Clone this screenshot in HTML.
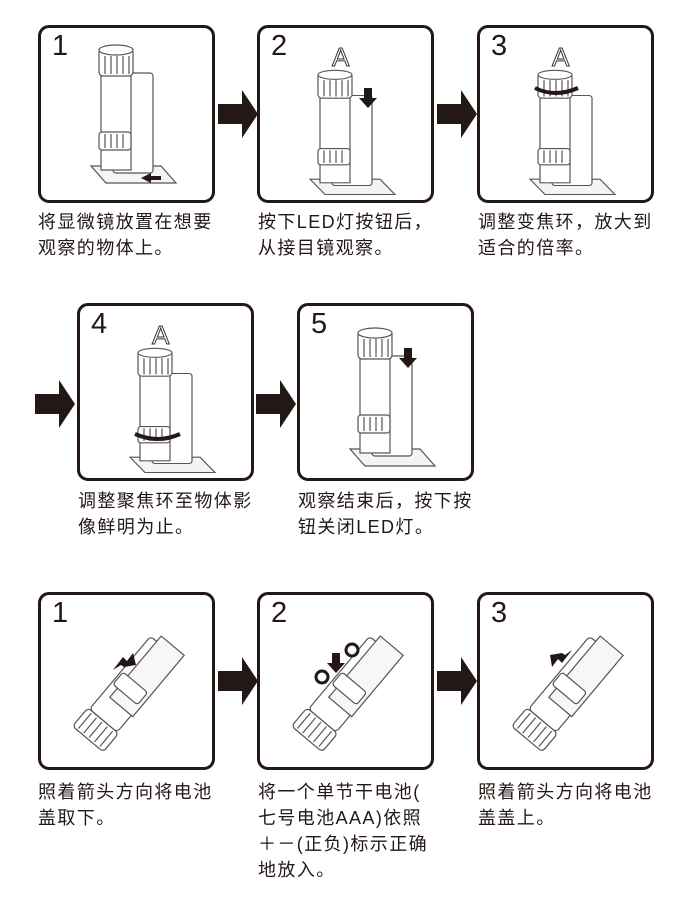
<!DOCTYPE html>
<html><head><meta charset="utf-8"><style>
body{margin:0;width:689px;height:900px;background:#fff;position:relative;overflow:hidden;font-family:"Liberation Sans","Noto Sans CJK SC",sans-serif;color:#231815}
.box{position:absolute;width:171px;height:172px;border:3px solid #231815;border-radius:11px;box-sizing:content-box}
.num{position:absolute;left:11px;top:2px;font-size:29px;font-family:"Liberation Sans",sans-serif}
.t{position:absolute;font-size:18px;line-height:26px;white-space:nowrap;letter-spacing:1.4px}
.ar{position:absolute;width:40px;height:48px}
svg.m{position:absolute}
</style></head><body>
<svg width="0" height="0" style="position:absolute"><defs>
<g id="mic" fill="#fff" stroke="#555" stroke-width="1.2">
<polygon points="-30,118 40,118 55,135 -15,135" fill="#f4f4f4"/>
<rect x="-8" y="25" width="40" height="100" rx="3"/>
<rect x="-20" y="22" width="30" height="100"/>
<rect x="-22" y="0" width="34" height="28" rx="4"/>
<ellipse cx="-5" cy="2" rx="17" ry="5"/>
<line x1="-16" y1="8" x2="-16" y2="26"/><line x1="-10" y1="8" x2="-10" y2="26"/><line x1="-4" y1="8" x2="-4" y2="26"/><line x1="2" y1="8" x2="2" y2="26"/><line x1="8" y1="8" x2="8" y2="26"/>
<rect x="-22" y="84" width="32" height="18" rx="3"/>
<line x1="-16" y1="86" x2="-16" y2="100"/><line x1="-10" y1="86" x2="-10" y2="100"/><line x1="-4" y1="86" x2="-4" y2="100"/><line x1="2" y1="86" x2="2" y2="100"/>
</g>
<g id="mic2" fill="#fff" stroke="#555" stroke-width="1.2" transform="rotate(40)">
<rect x="-18" y="-55" width="36" height="95" rx="4"/>
<rect x="-10" y="-62" width="30" height="80" fill="#f7f7f7"/>
<rect x="-20" y="40" width="40" height="24" rx="4"/>
<line x1="-14" y1="42" x2="-14" y2="62"/><line x1="-7" y1="42" x2="-7" y2="62"/><line x1="0" y1="42" x2="0" y2="62"/><line x1="7" y1="42" x2="7" y2="62"/><line x1="14" y1="42" x2="14" y2="62"/>
<rect x="-16" y="-10" width="32" height="16" rx="3"/>
</g>
<polygon id="arr" points="0,14 24,14 24,0 40,24 24,48 24,34 0,34" fill="#231815"/>
</defs></svg>

<!-- Row 1 -->
<div class="box" style="left:38px;top:25px"><div class="num">1</div>
<svg class="m" width="171" height="172"><use href="#mic" x="80" y="20"/><polygon points="100,150 110,145 110,148 120,148 120,152 110,152 110,155" fill="#231815"/></svg></div>
<svg class="ar" style="left:218px;top:90px"><use href="#arr"/></svg>
<div class="box" style="left:257px;top:25px"><div class="num">2</div>
<svg class="m" width="171" height="172"><text x="72" y="38" font-size="26" fill="none" stroke="#333" font-family="Liberation Sans">A</text><use href="#mic" x="80" y="40" transform="scale(1,0.9) translate(0,10)"/><polygon points="104,60 112,60 112,70 117,70 108,80 99,70 104,70" fill="#231815"/></svg></div>
<svg class="ar" style="left:437px;top:90px"><use href="#arr"/></svg>
<div class="box" style="left:477px;top:25px"><div class="num">3</div>
<svg class="m" width="171" height="172"><text x="72" y="38" font-size="26" fill="none" stroke="#333" font-family="Liberation Sans">A</text><use href="#mic" x="80" y="40" transform="scale(1,0.9) translate(0,10)"/><path d="M55,60 Q75,70 98,60" stroke="#231815" stroke-width="4" fill="none"/></svg></div>
<div class="t" style="left:38px;top:209px">将显微镜放置在想要<br>观察的物体上。</div>
<div class="t" style="left:258px;top:209px">按下LED灯按钮后，<br>从接目镜观察。</div>
<div class="t" style="left:478px;top:209px">调整变焦环，放大到<br>适合的倍率。</div>

<!-- Row 2 -->
<svg class="ar" style="left:35px;top:380px"><use href="#arr"/></svg>
<div class="box" style="left:77px;top:303px"><div class="num">4</div>
<svg class="m" width="171" height="172"><text x="72" y="38" font-size="26" fill="none" stroke="#333" font-family="Liberation Sans">A</text><use href="#mic" x="80" y="40" transform="scale(1,0.9) translate(0,10)"/><path d="M55,128 Q78,138 100,128" stroke="#231815" stroke-width="4" fill="none"/></svg></div>
<svg class="ar" style="left:256px;top:380px"><use href="#arr"/></svg>
<div class="box" style="left:297px;top:303px"><div class="num">5</div>
<svg class="m" width="171" height="172"><use href="#mic" x="80" y="25"/><polygon points="104,42 112,42 112,52 117,52 108,62 99,52 104,52" fill="#231815"/></svg></div>
<div class="t" style="left:78px;top:488px">调整聚焦环至物体影<br>像鲜明为止。</div>
<div class="t" style="left:298px;top:488px">观察结束后，按下按<br>钮关闭LED灯。</div>

<!-- Row 3 -->
<div class="box" style="left:38px;top:592px"><div class="num">1</div>
<svg class="m" width="171" height="172"><use href="#mic2" x="88" y="95"/><polygon points="72,75 82,62 86,66 92,58 95,70 83,72 80,70" fill="#231815"/></svg></div>
<svg class="ar" style="left:218px;top:657px"><use href="#arr"/></svg>
<div class="box" style="left:257px;top:592px"><div class="num">2</div>
<svg class="m" width="171" height="172"><use href="#mic2" x="88" y="95"/><circle cx="62" cy="82" r="6" fill="#fff" stroke="#231815" stroke-width="3"/><circle cx="92" cy="55" r="6" fill="#fff" stroke="#231815" stroke-width="3"/><polygon points="72,58 80,58 80,68 85,68 76,78 67,68 72,68" fill="#231815"/></svg></div>
<svg class="ar" style="left:437px;top:657px"><use href="#arr"/></svg>
<div class="box" style="left:477px;top:592px"><div class="num">3</div>
<svg class="m" width="171" height="172"><use href="#mic2" x="88" y="95"/><polygon points="92,55 82,68 78,64 72,72 70,60 82,58 85,60" fill="#231815"/></svg></div>
<div class="t" style="left:38px;top:779px">照着箭头方向将电池<br>盖取下。</div>
<div class="t" style="left:258px;top:779px">将一个单节干电池(<br>七号电池AAA)依照<br>＋－(正负)标示正确<br>地放入。</div>
<div class="t" style="left:478px;top:779px">照着箭头方向将电池<br>盖盖上。</div>
</body></html>
